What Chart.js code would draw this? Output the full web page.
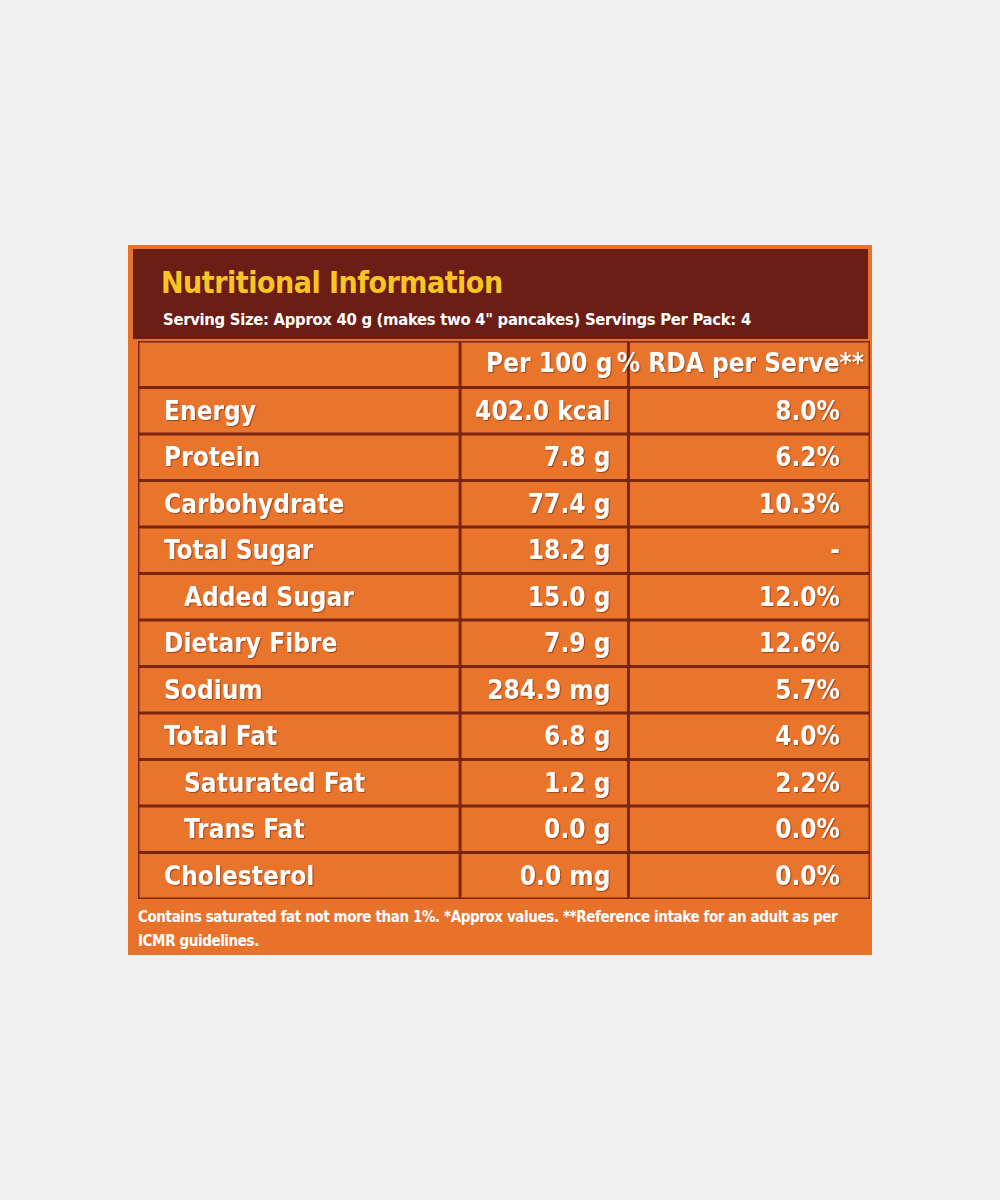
<!DOCTYPE html>
<html><head><meta charset="utf-8">
<script src="https://cdn.jsdelivr.net/npm/chart.js@4"></script>
<style>
body{margin:0;background:#f0f0f0;width:1000px;height:1200px;position:relative;font-family:"DejaVu Sans Condensed","DejaVu Sans",sans-serif;}
#panel{position:absolute;left:128px;top:245px;width:744px;height:710px;background:#e8722a;}
#head{position:absolute;left:5px;top:4px;width:735px;height:90px;background:#6c1d15;}
#title{position:absolute;left:28px;top:16px;color:#f9c522;font-weight:bold;font-size:30px;letter-spacing:-0.5px;}
#sub{position:absolute;left:30px;top:61px;color:#fff;font-weight:bold;font-size:16.5px;letter-spacing:-0.3px;}
#wrap{position:absolute;left:138px;top:341px;width:732px;height:558px;}
#foot{position:absolute;left:10px;top:660px;width:730px;color:#fff;font-weight:bold;font-size:15px;line-height:24px;letter-spacing:-0.4px;}
</style></head><body>
<div id="panel">
  <div id="head"><div id="title">Nutritional Information</div>
  <div id="sub">Serving Size: Approx 40 g (makes two 4" pancakes) Servings Per Pack: 4</div></div>
  <div id="foot">Contains saturated fat not more than 1%. *Approx values. **Reference intake for an adult as per ICMR guidelines.</div>
</div>
<div id="wrap"><canvas id="c"></canvas></div>
<script>
// ── 資料 ────────────────────────────────────────────────
const HEADERS = ["", "Per 100 g", "% RDA per Serve**"];
const NUTRIENTS = ["Energy", "Protein", "Carbohydrate", "Total Sugar", "Added Sugar", "Dietary Fibre",
  "Sodium", "Total Fat", "Saturated Fat", "Trans Fat", "Cholesterol"];
const INDENT = [false, false, false, false, true, false, false, false, true, true, false];
const PER_100G = ["402.0 kcal", "7.8 g", "77.4 g", "18.2 g", "15.0 g", "7.9 g",
  "284.9 mg", "6.8 g", "1.2 g", "0.0 g", "0.0 mg"];
const RDA = ["8.0%", "6.2%", "10.3%", "-", "12.0%", "12.6%", "5.7%", "4.0%", "2.2%", "0.0%", "0.0%"];
const COL_EDGES = [0, 44, 67, 100]; // 欄位邊界（x 軸百分比）

const ROWS = ["header", ...NUTRIENTS];
const FONT = "bold 26px 'DejaVu Sans Condensed', 'DejaVu Sans', sans-serif";

const tablePlugin = {
  id: "table-cells",
  beforeDraw(chart) {
    const { ctx, scales: { x, y } } = chart;
    const step = y.getPixelForValue(1) - y.getPixelForValue(0);
    const xs = COL_EDGES.map(v => x.getPixelForValue(v));
    ctx.save();
    ctx.fillStyle = "#7a2412";
    ctx.fillRect(xs[0], y.getPixelForValue(0) - step / 2, xs[3] - xs[0], step * ROWS.length);
    ROWS.forEach((r, i) => {
      const cy = y.getPixelForValue(i);
      for (let c = 0; c < 3; c++) {
        ctx.fillStyle = "#e9752c";
        ctx.fillRect(xs[c] + 1.5, cy - step / 2 + 1.5, xs[c + 1] - xs[c] - 3, step - 3);
      }
      ctx.font = FONT;
      ctx.textBaseline = "middle";
      ctx.fillStyle = "#fff";
      ctx.shadowColor = "rgba(90,20,0,0.5)";
      ctx.shadowOffsetX = 1; ctx.shadowOffsetY = 1; ctx.shadowBlur = 1;
      if (i === 0) {
        ctx.textAlign = "right";
        ctx.fillText(HEADERS[1], xs[2] - 16, cy + 1);
        ctx.fillText(HEADERS[2], xs[3] - 6, cy + 1);
      } else {
        const k = i - 1;
        ctx.textAlign = "left";
        ctx.fillText(NUTRIENTS[k], xs[0] + (INDENT[k] ? 46 : 26), cy + 2);
        ctx.textAlign = "right";
        ctx.fillText(PER_100G[k], xs[2] - 18, cy + 2);
        ctx.fillText(RDA[k], xs[3] - 30, cy + 2);
      }
      ctx.shadowColor = "transparent";
    });
    ctx.restore();
  },
};

new Chart(document.getElementById("c"), {
  type: "bar",
  data: { labels: ROWS, datasets: [{ data: ROWS.map(() => null) }] },
  options: {
    indexAxis: "y",
    responsive: true,
    maintainAspectRatio: false,
    animation: false,
    layout: { padding: 0 },
    scales: {
      x: { type: "linear", min: 0, max: 100, display: false },
      y: { type: "category", display: false, offset: true },
    },
    plugins: { legend: { display: false }, tooltip: { enabled: false } },
  },
  plugins: [tablePlugin],
});
</script>
</body></html>
